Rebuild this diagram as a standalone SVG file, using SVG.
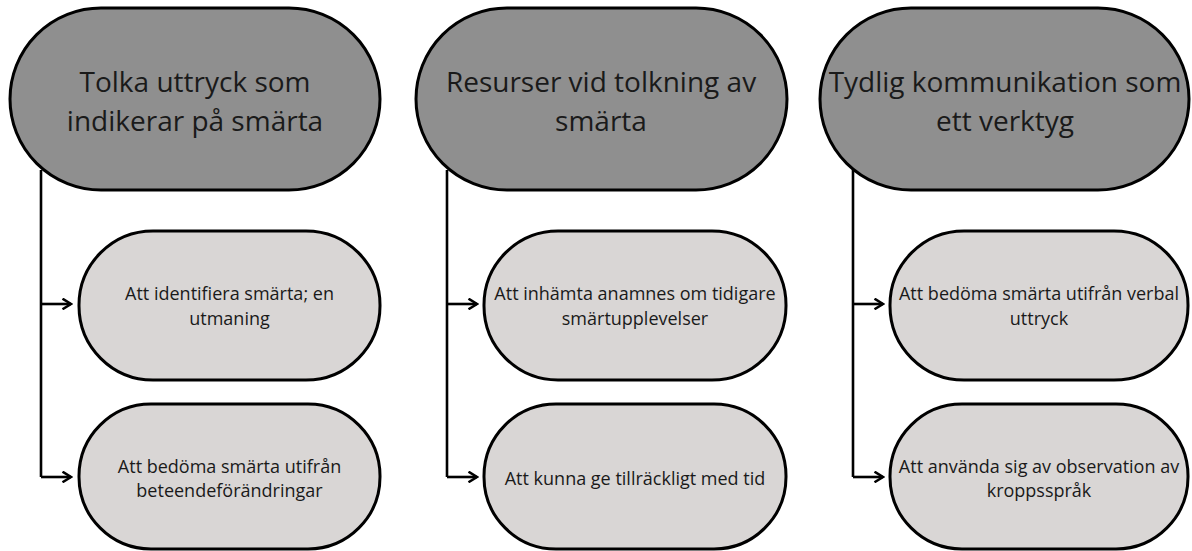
<svg xmlns="http://www.w3.org/2000/svg" width="1192" height="551" viewBox="0 0 1192 551">
<defs>
<style>
.hdr{fill:#8f8f8f;stroke:#000;stroke-width:3}
.sub{fill:#d9d6d5;stroke:#000;stroke-width:3}
.ht{font-family:"Open Sans","Liberation Sans",sans-serif;font-size:28px;fill:#1a1a1a;text-anchor:middle}
.st{font-family:"Open Sans","Liberation Sans",sans-serif;font-size:18px;fill:#1a1a1a;text-anchor:middle}
.ln{fill:none;stroke:#000;stroke-width:2.6}
</style>
<marker id="arr" viewBox="0 0 10 10" refX="8.5" refY="5" markerWidth="4.4" markerHeight="4.4" orient="auto" markerUnits="strokeWidth">
<path d="M2,1 L8.5,5 L2,9" fill="none" stroke="#000" stroke-width="2.2" stroke-linecap="square"/>
</marker>
</defs>
<rect width="1192" height="551" fill="#fff"/>
<g id="connectors">
<path class="ln" d="M41,170 V477"/>
<path class="ln" d="M41,304 H71" marker-end="url(#arr)"/>
<path class="ln" d="M41,477 H71" marker-end="url(#arr)"/>
<path class="ln" d="M447,170 V477"/>
<path class="ln" d="M447,304 H477" marker-end="url(#arr)"/>
<path class="ln" d="M447,477 H477" marker-end="url(#arr)"/>
<path class="ln" d="M853,170 V477"/>
<path class="ln" d="M853,304 H883" marker-end="url(#arr)"/>
<path class="ln" d="M853,477 H883" marker-end="url(#arr)"/>
</g>
<g id="h1">
<rect class="hdr" x="10" y="8" width="370" height="182" rx="91"/>
<text class="ht" x="195" y="92">Tolka uttryck som</text>
<text class="ht" x="195" y="131">indikerar på smärta</text>
</g>
<g id="h2">
<rect class="hdr" x="416" y="8" width="371" height="182" rx="91"/>
<text class="ht" x="601" y="92">Resurser vid tolkning av</text>
<text class="ht" x="601" y="131">smärta</text>
</g>
<g id="h3">
<rect class="hdr" x="820" y="8" width="369" height="182" rx="91"/>
<text class="ht" x="1005" y="92">Tydlig kommunikation som</text>
<text class="ht" x="1005" y="131">ett verktyg</text>
</g>
<g id="c1a">
<rect class="sub" x="79" y="231" width="301" height="149" rx="74"/>
<text class="st" x="229.5" y="300">Att identifiera smärta; en</text>
<text class="st" x="229.5" y="325">utmaning</text>
</g>
<g id="c1b">
<rect class="sub" x="79" y="404" width="301" height="145" rx="72"/>
<text class="st" x="229.5" y="473">Att bedöma smärta utifrån</text>
<text class="st" x="229.5" y="497">beteendeförändringar</text>
</g>
<g id="c2a">
<rect class="sub" x="484" y="231" width="302" height="149" rx="74"/>
<text class="st" x="635" y="300">Att inhämta anamnes om tidigare</text>
<text class="st" x="635" y="325">smärtupplevelser</text>
</g>
<g id="c2b">
<rect class="sub" x="484" y="404" width="302" height="145" rx="72"/>
<text class="st" x="635" y="485">Att kunna ge tillräckligt med tid</text>
</g>
<g id="c3a">
<rect class="sub" x="890" y="231" width="298" height="149" rx="74"/>
<text class="st" x="1039" y="300">Att bedöma smärta utifrån verbal</text>
<text class="st" x="1039" y="325">uttryck</text>
</g>
<g id="c3b">
<rect class="sub" x="890" y="404" width="298" height="145" rx="72"/>
<text class="st" x="1039" y="473">Att använda sig av observation av</text>
<text class="st" x="1039" y="497">kroppsspråk</text>
</g>
</svg>
